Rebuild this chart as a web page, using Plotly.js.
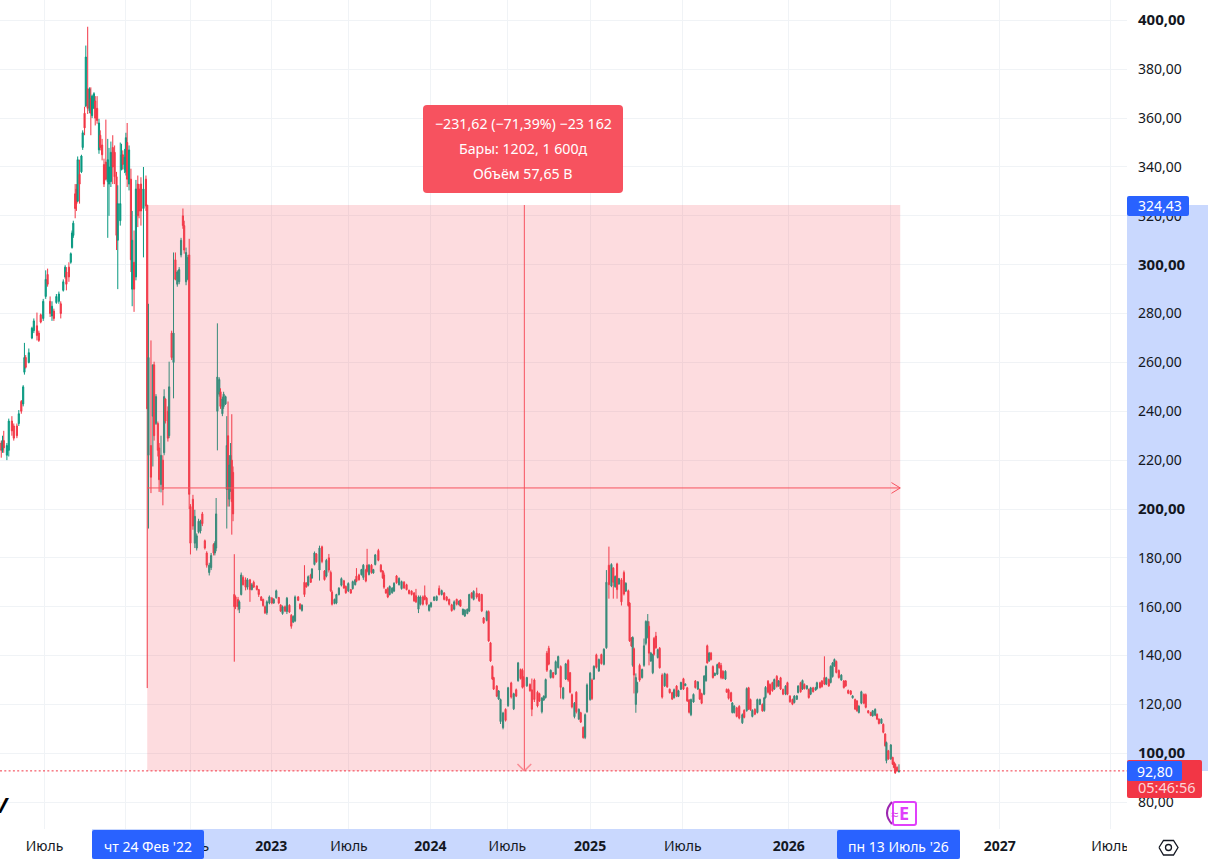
<!DOCTYPE html>
<html><head><meta charset="utf-8">
<script src="https://cdn.plot.ly/plotly-3.0.1.min.js"></script>
<style>html,body{margin:0;padding:0;background:#fff;overflow:hidden}#chart{width:1208px;height:859px}</style>
</head><body><div id="chart"></div>
<script>
// Era 1: before the measured range, and the crash of Feb 2022
const barsA=[2,4,6,11,14,19,22,27,30,34,
37,39,41,46,51,54,59,62,65,69,
73,76,80,83,86,90,94,97,101,104,
106,110,113,115,117,120,122,124,127,130,
132,135,137,140,143,145,147,150,152,155,
158,160,163,166,169,172,174,177,180,183,
186,188,192,194,196,199,201,203,206,209,
211,214,217,220,222,225,229,233,235,237,
241,244,246,249,252,254,257,260,262,264,
268,270,274,277,280,283,286,289,292,294,
297,300,302,304,308,311,314,317,320,323,
327,330,334,337,341,343,345,347,350,352,
355,357,360,362,364,366,368,370,372,374];
const openA=[227,224,228,222,224,236,234,234,235,244,
243,256,262,260,270,273,275,272,279.5,278,
287,296,285,279,281,284.5,285,284,289.5,295,
297,299,301,307,312,329,331,326,337,338,
348,362,365,372,363,368,361,364,367,364,
347,353,349,341,342,334,333,334,348,346,
336,310,318,339,345,339,338,350,333,335,
290,301,295,333,331,333,323,335,324.4,222,
226,238,259,235,235,225,210,220,223,245,
240,230,272,260,302,292,293,304,320,316,
293,294,304,201,204,186,184,190.5,191,198,
187,182,174,176,185.5,182,184,240,247,248,
239,242,243,208,230,204,209,220,215,165];
const highA=[228,230,232,227,237,238,235,235,240.5,244.6,
250.7,268,263,265.7,274.6,278,280.4,273,280,286,
297.7,298.4,287,285,282,288,289,285,294,299.8,
299,301,305,314,318,333,333,344.3,343,345,
355,364.7,389.7,397.4,372.6,372.6,369.6,370.6,369,369,
359.7,355,351.5,343.4,359.4,351.5,347.8,350.4,353,348.8,
338,332.5,350,349.5,346.8,347.4,354,358,348.8,339.3,
322,314,334.7,336.5,333,335.8,340,336.5,324.4,284,
269,259,260.3,247,235.8,227,230,222,249,245.3,
242,260.3,273,305,305,297.7,299,311,323,318,
307,304,310.6,202,205.8,199.7,190,196,195.6,198.8,
187.5,182.7,178,182,186,186.8,204.5,276,253.9,249.4,
246,248,246.4,238,244,222,227,238.8,217.4,181.5];
const lowA=[221,223,223,220,221.5,230,228,229,234,239,
242,255,257.5,259.6,269.5,272,269,268.4,276,277,
286,291,278.6,277,277,284,284,278,289,294.3,
289.5,293,300.4,306.6,311,319,322,325.6,325,337.5,
347,353,364.5,361.7,362,353,360,363.8,357,357.7,
345.4,346.8,342.7,331.8,334.5,311,320,331.8,333,333,
306,290,316,338.6,339,337.5,336.5,331.8,330.4,297,
283,280.7,293.6,315.4,319,316,303,322,126.7,192,
206.5,217.4,228,234.4,221.5,207,206.8,201.5,222,235,
227.6,229,261,245.3,293.6,291,292,303,314.7,304.5,
291.6,293.6,200,181.4,191.5,184,183,190,190,193,
183.4,176,172.8,175,181,181,182.7,224,246,241,
238,241,242.6,192,201,201,207,189.5,195,137.5];
const closeA=[224,228,225,226,236,232,229,230,239,240,
250,262,258,264,274,277,271,269,276.5,285,
294,292,280,283,278,287,288,280,293,299,
292,295,304.5,313,317,323,325,343,333,344.5,
354,356,385,364,372,362,369,370,360,359,
358,348,345,333,335,343,340,346,340,336,
312,325,325,345,341,344,352,335,347,302,
310,290,331,320,322,322,331,324,241,262,
213,259,230,246,224,212,222,208,246,236,
229,250,262,272,294,297,298,310,316,306,
305,303,206,186,193,197,189,195,195,194,
184,177,177,181,182,186,198,254,253,242,
245,247,246,226,208,218,222,203,198,160];

// Era 2: 2023 and the first half of 2024
const barsB=[376,380,382,385,388,392,395,399,402,405,
410,413,417,420,423,426,430,434,437,441,
445,448,451,455,458,462,465,468,471,476,
479,482,486,489,492,496,498,502,505,510,
514,518,521,525,528,530,534,537,541,545,
549,552,556,560,563,567,569,573,577,580,
584,586,589,593,596,599,604,608,611,613,
616,619,622,626,629,633,637,641,645,649,
653,657,661,664,668,671,675,678,681,685,
688,693,697,701,705,709,713,717,721,725,
729,733,735,739,742,746,749,753,756,761,
765,769,772,777,780,783,786,788,793,796,
799,803,807,811,816,820,824,827,831,834];
const openB=[164,163,159,165,172,171,168,171,167,170,
168.5,167,164,163,160,157.5,161.5,163.5,161.5,163.7,
163.8,160.7,157.2,160,158,160.6,156.5,153.7,154.2,164,
161,158.5,170,169.7,168.8,173,171.8,177.3,181.6,175,
184.5,174.6,172.5,180,174,166,161.3,161.5,165,168.8,
170.6,168.3,166.5,167,167.4,169,172.5,173,173.1,172,
175,177,173.2,177,173.8,177.3,183,177,174.6,173,
167,167.5,165,165.7,166.4,172.6,169,167.4,170,169,
166.7,166.4,165.6,164.5,159,161,164,164.5,163.5,158.5,
160,162.6,162.6,167.5,165,165.6,164,163,160.8,159,
163,160.8,162.7,156.8,156.2,157.2,158.2,165.6,163,165.5,
165.2,165,155.4,154.4,158,145.2,135.6,131,127.5,122.2,
113,110.5,118,119.5,128.8,118.2,126,129.7,134.3,134];
const highB=[164.6,164,162.6,174,172.8,172,171.7,171.4,169.7,170.7,
168.7,167.3,164.4,163.3,160.5,162.6,164.6,164,163.5,167,
164,161,160.5,160.5,164,161,157,156.5,164.6,164.4,
161.5,161,177,170,172.8,173.5,175.8,182.6,182,185,
185,175,179.6,181.6,174.8,166.7,163.3,165.3,168,172,
171,168.7,170,167.3,170.7,171.4,175.8,173.5,175.5,177.5,
175.5,183.7,177.5,177.5,175.5,181.6,183.7,177.5,175,174,
167.3,168,168.7,168,170,173,172,170.7,170.5,169.4,
167,166.7,166,167.3,164.6,164.6,164.6,168.7,164,161,
162,164.2,164.6,168.7,167,166,164.4,163.3,161.2,162.6,
163.3,162.6,163,159.2,159,159.2,165.3,166,166.7,167.8,
165.6,165.3,155.8,158.5,158.5,145.6,136,131.3,127.9,125.9,
122.4,117,118.4,127.2,129.3,124.8,126.5,137.4,134.7,134.7];
const lowB=[159,158.5,157.4,164.6,168.7,166.7,167,162,166.7,167.8,
166.7,164,162.3,160,157,156.7,161,161,161.2,163.3,
161,157.8,156.7,157.8,157,157.4,151,153.3,153.7,162.3,
158.8,158,164,167.8,168.3,169.7,171.4,176.9,178,170.7,
177.8,170.7,172,174,166,160.5,161,161,164.6,168.3,
167.3,165.3,166,165.3,167,168.7,170,170.7,172.8,171,
170,174,172.8,173.5,173.5,176.9,178.6,174,171.4,167.3,
165.3,163.5,164.6,165.3,166,169.4,168.7,167,167.3,166.7,
165,164.6,162,161.5,157.4,160.5,160.5,162.6,160.5,158,
159.6,162.3,162.3,164.6,164.6,162.6,162.2,160.5,158,158.5,
160.5,160.5,159.9,156.5,155.8,156.9,157.8,163.3,162.6,163.3,
162,157.8,153,154,145.6,137.4,130,125.9,123,121.8,
112,109.8,113,119,122.4,117.7,123,129.3,130.2,126.5];
const closeB=[160,160,162,173,169,168,171,167,169,168,
167,165,162.6,160.5,157.5,162,164,161.5,163,166.5,
161.5,158.2,160,158.2,163.5,157.8,152,156,164,162.6,
159.2,160.6,165,168.1,172.3,170,175.4,182,178.4,184,
178.5,171.1,179,175,166.5,161,163,165,167.6,171.5,
167.7,165.7,169.5,165.6,170.3,171,170.4,171,175.2,177,
170.5,174.5,177,174,175.2,181.2,179,174.4,171.8,168,
165.6,164,168.3,167.6,169.6,169.8,171.6,170.3,167.7,167,
165.4,165,162.4,162,164,164,161,163,161,160.6,
161.6,164,164.2,165,166.6,163,162.6,161,158.4,162,
161,162.3,160.2,159,158.6,159,165,163.7,166.3,164,
162.4,158.3,153.4,158,146,137.8,130.4,126.3,123.4,125.5,
122,116.5,113.5,126.8,123,124.4,123.4,137,130.6,127];

// Era 3: summer 2024 to autumn 2025
const barsC=[836,841,846,849,853,858,861,865,868,871,
873,876,879,883,887,891,895,899,903,907,
910,913,917,920,924,927,931,934,937,942,
945,948,952,956,960,964,968,972,976,979,
982,985,988,992,996,999,1003,1005,1008,1010,
1012,1015,1017,1021,1025,1028,1031,1034,1036,1039,
1042,1044,1047,1050,1053,1057,1061,1065,1069,1073,
1076,1080,1083,1087,1091,1094,1097,1100,1103,1107,
1110,1114,1117,1120,1124,1127,1129,1132,1135,1138,
1141,1145,1148];
const openC=[131,127.6,128.2,126,130,125,124.4,117,121.8,122.8,
141,143,131,133,132.4,135.1,135.5,122.5,130.4,138,
133,124,115,125,114,116.6,110.6,106.5,117,122,
130,130.4,140.3,133.7,140.4,136.4,143.2,177,168.5,175.8,
168.2,177.5,169.3,171,174,166.4,166.5,161.5,147.2,136,
142.8,120,125,136,131,136,145,147.5,152,137.8,
133,147,148,139.2,143,132,127.6,132.3,126.2,124.8,
122.8,127.5,123.3,126.2,130.5,127.7,126.8,121.8,115.8,121,
129.6,126.3,126.1,124.4,124.2,129.7,144,137.8,141,135.5,
131.8,132.4,137];
const highC=[131.6,131.3,128.6,130.6,130.6,125.6,124.8,123,123.7,130.6,
141.9,144,134.3,133.3,138,140,136,127.2,137,138.5,
133.3,124.5,121,125.4,118.4,117,111,116.3,128.6,133.3,
130.6,136,140.8,138.8,140.8,143,175,184.6,177.8,176.2,
172.8,178,171.8,171.7,174.8,170,167,161.9,147.6,147.9,
143.3,132.7,129.3,136.7,134.7,147,154.4,157,154,141.5,
140.8,147.6,149.7,142.8,143.5,132.7,133,132.7,126.5,125.2,
126.5,127.9,126,129.3,130.9,128.6,127.2,122.2,122.4,124.5,
130,129.6,126.5,124.8,132,136,144.5,141.5,141.5,136,
133,136.7,137.4];
const lowC=[127,127.2,125.2,115.2,121,118.8,121,116.3,121.5,122.4,
133.3,136,130.6,130.6,132,134.7,122.4,122,130,129.3,
124.5,118.4,114.3,116.3,113.6,112.4,106,105.8,116.6,121.5,
121.8,130,134.7,133.3,136.3,136,142.8,163.3,168,163.3,
167.8,163.3,169,160.5,164.6,166,160,145.6,143.5,135.4,
124.5,116.6,124.5,129.3,130.6,135.4,144.2,147,136,137.4,
132.4,140,142.8,138.8,134.7,122.4,127.2,126.8,124.5,121.8,
122.4,123,123,125.9,125.9,127.5,121,116.3,115.2,120.7,
126.5,125.9,121.8,120.1,123.8,129.3,136.7,137.4,138,130.6,
131.6,132,134.7];
const closeC=[127.5,131,125.6,118,122,119.4,121.4,122.6,123.4,130.2,
134,136.5,134,131,137.5,139.6,127,126.8,136.6,130,
125,119,120.5,117,118,112.8,106.4,115.8,128,132.8,
122.4,135.6,135.2,138.4,136.7,142.6,170,169,177.3,170,
172.4,167,171.5,162,165.2,169.6,160.5,146,143.9,147.4,
132,131,129,130,134.3,144,154,154,141,141,
140.4,140.5,143.2,142.4,135,123,132.6,127.2,124.8,122.2,
126,123.4,125.6,129,126.3,128.4,121.5,116.8,122,124.1,
126.9,129.2,122.2,120.5,131.6,135.6,137,141,138.4,131,
132.8,136.3,135];

// Era 4: autumn 2025 to July 2026
const barsD=[1151,1154,1158,1160,1163,1167,1169,1172,1176,1180,
1185,1188,1192,1195,1198,1201,1205,1209,1213,1217,
1220,1222,1226,1229,1233,1236,1240,1243,1246,1250,
1254,1257,1261,1265,1268,1272,1274,1278,1281,1284,
1288,1291,1294,1298,1302,1304,1309,1312,1316,1319,
1323,1326,1329,1332,1335,1339,1343,1347,1350,1354,
1358,1361,1365,1368,1371,1375,1379,1382,1386,1390,
1393,1397,1400,1403,1407,1410,1413,1415,1418,1422,
1425,1427,1429,1432,1435];
const openD=[136,133.6,130.4,126.2,126,124.8,116.7,116.7,118.6,119.2,
112.5,117.6,117.5,126.8,122,115.1,118,116.7,120,120,
117.5,122.8,129.5,128.2,128.9,126.3,131.5,127.6,130.9,126.1,
124.2,128.9,123.4,122,120.8,122.1,124.9,128.9,126.3,128.2,
126.4,126.1,124.2,126.8,125.9,126.5,128.9,129.6,131,128.3,
130.2,129,131.4,135.8,137.6,133.9,130,129.6,129.6,125.7,
125.5,122.7,122,121.4,116.7,120.5,124.1,124,117.4,116.7,
115.3,115.6,116,114,112.3,111.9,107.9,97,101,97.7,
98.3,96.3,95.5,94.3,92.5];
const highD=[137,134,134,126.5,126.5,125.2,121,119.7,119,119.7,
116.3,118,127,127.2,122.4,118,118.4,122.4,122.4,120.4,
123.1,127.5,130,128.6,129.3,130.6,132,130,131.3,126.5,
127.9,129.3,123.8,122.4,123.8,123.8,127.9,129.3,130.2,128.6,
127.9,126.5,127.2,127.2,127.2,129.3,129.3,130,139.7,131.3,
130.6,136,137.4,138.8,138,134.3,132.4,130,130,126.1,
125.9,123.8,122.4,121.8,119.7,125.6,124.5,124.5,117.7,117,
117.7,118.4,116.3,114.3,114.3,112.2,108.2,104.8,101.4,103.8,
98.6,96.6,95.9,94.6,95.5];
const lowD=[130.3,130.3,130,124.8,122,121,116.3,116.3,114.7,113.9,
112,114.3,117,117.7,117.4,114.7,115.6,116.3,119.7,117,
117,122.4,124.5,123.8,125.2,125.9,126.9,127.2,125.9,123.8,
123.8,123.8,120.7,119.7,120.4,121.8,124.5,124.8,125.9,126.1,
126.1,122.4,123.8,124.9,125.6,126.1,126.5,126.9,127.9,127.9,
127.2,128.6,131,135.4,132.7,130.6,129.7,126.5,127.2,124.2,
123.8,122.4,117.7,117,116.3,120.1,120.1,118.4,116.3,115.2,
115,115.2,113.6,111.8,112,108.2,102.7,95.9,97.3,97.3,
95.2,93.9,91.6,92.5,92.1];
const closeD=[131,130.7,133.6,125,122.5,121.4,120.6,119.3,115.1,114.4,
115.8,114.7,126.5,118.2,117.8,117.6,116,122,122,117.4,
122.7,127,125,124.2,125.6,130.2,127.4,129.6,126.3,124.2,
127.5,124.2,121.1,120.1,123.4,123.5,127.5,125.2,129.8,126.5,
127.6,122.8,126.8,125.2,126.9,128.9,126.9,127.3,128.3,130.9,
127.6,135.6,137,138.4,133.1,131,132,126.9,127.6,124.6,
124.2,123.5,118.1,117.4,119.3,125.2,120.5,118.8,116.6,115.5,
117.4,118,114,112.2,114,108.6,103.1,104.4,97.7,103.4,
95.5,94.2,92,92.8,92.8];

const priceTicks=[400,380,360,340,320,300,280,260,240,220,200,180,160,140,120,100,80];
const boldPrice=s=>'<span style="font-size:15px"><b>'+s+'</b></span>';
const priceLabels=[boldPrice("400,00"),"380,00","360,00","340,00","320,00",boldPrice("300,00"),"280,00","260,00","240,00","220,00",boldPrice("200,00"),"180,00","160,00","140,00","120,00",boldPrice("100,00"),"80,00"];
const timeTicks=[71,200,304,433,557,687,810,942,1090,1259,1422,1596,1772];
const timeLabels=["Июль","","Июль","<b>2023</b>","Июль","<b>2024</b>","Июль","<b>2025</b>","Июль","<b>2026</b>","","<b>2027</b>","Июль"];
const measureTop=324.43, measureBottom=92.80, measureFromBar=235, measureToBar=1437;

const tv='"Noto Sans",sans-serif';
const W=1127,H=829;
const px=x=>x/W, py=y=>(H-y)/H;
const RED='#f7525f', BLUE='#2962ff', BAND='#c9d8fe', INK='#131722';

function rr(x0,y0,x1,y1,r,fill,line){
  const a=px,b=py;
  const d=`M${a(x0+r)},${b(y0)} L${a(x1-r)},${b(y0)} Q${a(x1)},${b(y0)} ${a(x1)},${b(y0+r)} L${a(x1)},${b(y1-r)} Q${a(x1)},${b(y1)} ${a(x1-r)},${b(y1)} L${a(x0+r)},${b(y1)} Q${a(x0)},${b(y1)} ${a(x0)},${b(y1-r)} L${a(x0)},${b(y0+r)} Q${a(x0)},${b(y0)} ${a(x0+r)},${b(y0)} Z`;
  return {type:'path',xref:'paper',yref:'paper',layer:'above',path:d,fillcolor:fill,line:line||{width:0}};
}
function box(x0,y0,x1,y1,fill,layer){
  return {type:'rect',xref:'paper',yref:'paper',layer:layer||'above',x0:px(x0),x1:px(x1),y0:py(y1),y1:py(y0),fillcolor:fill,line:{width:0}};
}
function pth(points,color,width,fill){
  const d=points.map((p,i)=>(i?'L':'M')+px(p[0])+','+py(p[1])).join(' ');
  return {type:'path',xref:'paper',yref:'paper',layer:'above',path:d+(fill?' Z':''),fillcolor:fill||'rgba(0,0,0,0)',line:{color:color,width:width}};
}
function seg(xa,ya,xb,yb,color,width,dash){
  return {type:'line',xref:'x',yref:'y',layer:'above',x0:xa,x1:xb,y0:ya,y1:yb,line:{color:color,width:width,dash:dash||'solid'}};
}
function txt(x,y,s,color,size){
  return {xref:'paper',yref:'paper',x:px(x),y:py(y),text:s,showarrow:false,xanchor:'center',yanchor:'middle',font:{family:tv,size:size||14,color:color||'#fff'},captureevents:false};
}
const midPrice=(measureTop+measureBottom)/2, midBar=837;

const shapes=[
  // axis highlight bands
  {type:'rect',xref:'x',yref:'paper',layer:'below',x0:147,x1:1532,y0:py(859),y1:0,fillcolor:BAND,line:{width:0}},
  {type:'rect',xref:'paper',yref:'y',layer:'below',x0:1,x1:px(1208),y0:measureBottom,y1:measureTop,fillcolor:BAND,line:{width:0}},
  // measured range
  {type:'rect',xref:'x',yref:'y',layer:'above',x0:measureFromBar,x1:measureToBar,y0:measureBottom,y1:measureTop,fillcolor:'rgba(247,82,95,0.2)',line:{width:0}},
  seg(measureFromBar,midPrice,measureToBar,midPrice,RED,1),
  seg(midBar,measureTop,midBar,measureBottom,RED,1),
  seg(measureToBar-14,midPrice+2.2,measureToBar,midPrice,RED,1),
  seg(measureToBar-14,midPrice-2.2,measureToBar,midPrice,RED,1),
  seg(midBar-11,measureBottom+2.8,midBar,measureBottom,'#fa8c95',1.5),
  seg(midBar+11,measureBottom+2.8,midBar,measureBottom,'#fa8c95',1.5),
  // last price line
  {type:'line',xref:'paper',yref:'y',layer:'above',x0:0,x1:1,y0:measureBottom,y1:measureBottom,line:{color:'#f23645',width:1,dash:'2px,2.3px'}},
  // clip the last time label at the price axis
  box(1127,830,1208,859,'#ffffff'),
  // axis pills
  rr(92,830,204,859,2,BLUE),
  rr(837,830,960,859,2,BLUE),
  rr(1127,196,1189,216,2,BLUE),
  rr(1127,760,1202,798,2,'#f23645'),
  rr(1127,761,1182,781,2,BLUE),
  // measure tooltip
  rr(423,105,623,193,4,RED),
  // earnings badge
  {type:'path',xref:'paper',yref:'paper',layer:'above',path:`M${px(892)},${py(802)} Q${px(882)},${py(813)} ${px(892)},${py(824)}`,fillcolor:'rgba(0,0,0,0)',line:{color:'#9c27b0',width:2}},
  rr(893,802,916,825,2,'#ffffff',{color:'#e040fb',width:2}),
  // settings hexagon
  pth([[1159,847.5],[1163.5,840.5],[1173.5,840.5],[1178,847.5],[1173.5,855],[1163.5,855],[1159,847.5]],INK,1.3),
  {type:'circle',xref:'paper',yref:'paper',layer:'above',x0:px(1165.5),x1:px(1171.5),y0:py(850.5),y1:py(844.5),fillcolor:'rgba(0,0,0,0)',line:{color:INK,width:1.3}}
];

const annotations=[
  txt(523,123.5,'−231,62 (−71,39%) −23 162','#fff',14.2),
  txt(523,148.5,'Бары: 1202, 1 600д','#fff',14.2),
  txt(523,173.5,'Объём 57,65 B','#fff',14.2),
  txt(1160,205,'324,43'),
  txt(1155,771,'92,80'),
  txt(1167,787,'05:46:56','#fcd3d6',14.5),
  txt(148,847,"чт 24 Фев '22"),
  txt(898,847,"пн 13 Июль '26"),
  txt(904,813,'<b>E</b>','#e040fb',18),
  txt(894,814,'≈','#d63de8',13),
  txt(1,804,'<b><i>V</i></b>','#000000',22)
];

const x=[].concat(barsA,barsB,barsC,barsD);
const o=[].concat(openA,openB,openC,openD);
const h=[].concat(highA,highB,highC,highD);
const l=[].concat(lowA,lowB,lowC,lowD);
const c=[].concat(closeA,closeB,closeC,closeD);
if(!(x.length===o.length&&x.length===h.length&&x.length===l.length&&x.length===c.length))
  throw new Error('lengths '+[x.length,o.length,h.length,l.length,c.length].join(','));

Plotly.newPlot('chart',[{
  type:'candlestick',x:x,open:o,high:h,low:l,close:c,
  increasing:{line:{color:'#089981',width:1},fillcolor:'#089981'},
  decreasing:{line:{color:'#f23645',width:1},fillcolor:'#f23645'},
  whiskerwidth:0,hoverinfo:'skip',showlegend:false
}],{
  width:1208,height:859,margin:{l:0,r:81,t:0,b:30,pad:0},
  paper_bgcolor:'#ffffff',plot_bgcolor:'#ffffff',
  font:{family:tv,size:14,color:INK},
  showlegend:false,dragmode:false,boxgap:0.1,boxgroupgap:0,
  xaxis:{type:'linear',range:[0,W*1202/753],tickmode:'array',tickvals:timeTicks,ticktext:timeLabels,
    showgrid:true,gridcolor:'#f0f3f6',gridwidth:1,zeroline:false,showline:false,ticks:'',ticklabelstandoff:7,
    tickfont:{family:tv,size:14,color:INK},rangeslider:{visible:false},fixedrange:true},
  yaxis:{side:'right',type:'linear',range:[100-(H-753.3)/2.443,100+753.3/2.443],tickmode:'array',tickvals:priceTicks,ticktext:priceLabels,
    showgrid:true,gridcolor:'#f0f3f6',gridwidth:1,zeroline:false,showline:false,ticks:'',ticklabelstandoff:10,ticklabelshift:1.5,
    tickfont:{family:tv,size:14,color:INK},fixedrange:true},
  shapes:shapes,annotations:annotations
},{displayModeBar:false,staticPlot:true});
</script></body></html>
